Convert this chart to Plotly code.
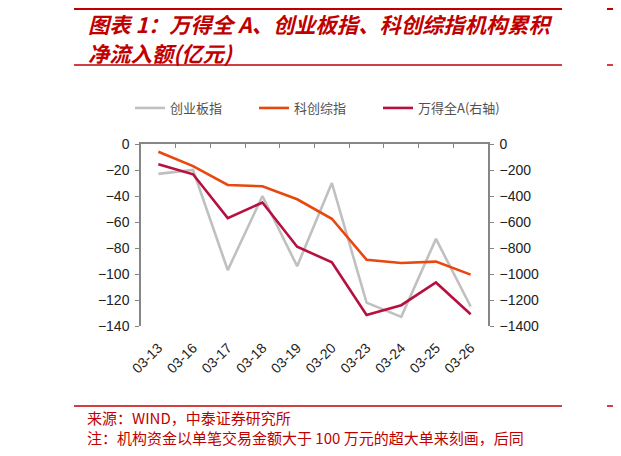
import plotly.graph_objects as go

# ── data ─────────────────────────────────────────────────────
dates = ["03-13", "03-16", "03-17", "03-18", "03-19",
         "03-20", "03-23", "03-24", "03-25", "03-26"]
chinext = [-23, -20, -97, -40, -94, -30, -122, -133, -73, -125]      # 创业板指
star = [-6, -17, -31.5, -32.5, -42.5, -57.5, -89, -91.5, -90.5, -100.5]  # 科创综指
wind_a = [-155, -233, -570, -450, -790, -910, -1315, -1240, -1065, -1310]  # 万得全A (right)

left_range = [-140, 0]
right_range = [-1400, 0]

# ── page geometry (pixels of the reference page) ─────────────
# the browser body keeps an 8px margin, so page pixels are shifted back by OFF
W, H = 621, 456
OFF = 8
PL, PR, PT, PB = 141 - OFF, 488 - OFF, 144 - OFF, 326 - OFF   # plot area edges
RED = "#C00000"
AXIS = "#868686"
CJK = "Noto Sans CJK SC"


def px(x):
    return (x - OFF - PL) / (PR - PL)


def py(y):
    return (PB - (y - OFF)) / (PB - PT)


fig = go.Figure()
fig.add_trace(go.Scatter(x=dates, y=chinext, name="创业板指", mode="lines",
                         line=dict(color="#C0C0C0", width=2.6)))
fig.add_trace(go.Scatter(x=dates, y=star, name="科创综指", mode="lines",
                         line=dict(color="#E8480E", width=2.6)))
fig.add_trace(go.Scatter(x=dates, y=wind_a, name="万得全A(右轴)", mode="lines",
                         yaxis="y2", line=dict(color="#B8103E", width=2.6)))

tick_font = dict(family="Liberation Sans, Arial", size=14, color="#222222")
boundaries = [i - 0.5 for i in range(len(dates) + 1)]

fig.update_layout(
    width=W, height=H,
    margin=dict(l=PL, r=W - PR, t=PT, b=H - PB),
    paper_bgcolor="white", plot_bgcolor="white",
    showlegend=True,
    legend=dict(orientation="h", x=px(130), xanchor="left",
                y=py(108), yanchor="middle",
                font=dict(family=CJK, size=13, color="#505050"),
                entrywidth=79, entrywidthmode="pixels",
                bgcolor="rgba(0,0,0,0)"),
    xaxis=dict(type="category", showline=False, ticks="", showgrid=False,
               tickangle=-45, tickfont=tick_font, ticklabelstandoff=10,
               range=[-0.5, len(dates) - 0.5]),
    xaxis2=dict(overlaying="x", side="top", anchor="y", showline=True,
                linecolor=AXIS, linewidth=1.5, showgrid=False,
                range=[-0.5, len(dates) - 0.5], tickmode="array",
                tickvals=boundaries, showticklabels=False,
                ticks="inside", ticklen=4, tickcolor=AXIS, tickwidth=1.2),
    yaxis=dict(range=left_range, dtick=20, showgrid=False, zeroline=False,
               showline=True, linecolor=AXIS, linewidth=1.5,
               ticks="outside", ticklen=4, tickcolor=AXIS, tickwidth=1.2,
               tickfont=tick_font, ticklabelstandoff=3),
    yaxis2=dict(range=right_range, dtick=200, overlaying="y", side="right",
                showgrid=False, zeroline=False,
                showline=True, linecolor=AXIS, linewidth=1.5,
                ticks="outside", ticklen=4, tickcolor=AXIS, tickwidth=1.2,
                tickfont=tick_font, ticklabelstandoff=3),
)

# dummy trace so xaxis2 is drawn
fig.add_trace(go.Scatter(x=[0], y=[None], xaxis="x2", showlegend=False,
                         hoverinfo="skip"))

# ── frame lines of the report page ───────────────────────────
def hline(x0, x1, y, width):
    fig.add_shape(type="line", xref="paper", yref="paper",
                  x0=px(x0), x1=px(x1), y0=py(y), y1=py(y),
                  line=dict(color=RED, width=width))


hline(74, 562, 8.5, 3)
hline(74, 562, 65, 1.5)
hline(607, 630, 8.5, 3)
hline(607, 630, 65, 1.5)
hline(74, 562, 406, 1.5)
hline(607, 630, 406, 1.5)

title_font = dict(family=CJK, size=21.3, color=RED, weight="bold", style="italic")
for text, y in [("图表 1：万得全 A、创业板指、科创综指机构累积", 24),
                ("净流入额(亿元)", 52)]:
    fig.add_annotation(text=text, xref="paper", yref="paper",
                       x=px(86), y=py(y), xanchor="left", yanchor="middle",
                       showarrow=False, font=title_font)

note_font = dict(family=CJK, size=15, color=RED)
for text, y in [("来源：WIND，中泰证券研究所", 417),
                ("注：机构资金以单笔交易金额大于 100 万元的超大单来刻画，后同", 437)]:
    fig.add_annotation(text=text, xref="paper", yref="paper",
                       x=px(85), y=py(y), xanchor="left", yanchor="middle",
                       showarrow=False, font=note_font)

fig.write_html("out.html")
